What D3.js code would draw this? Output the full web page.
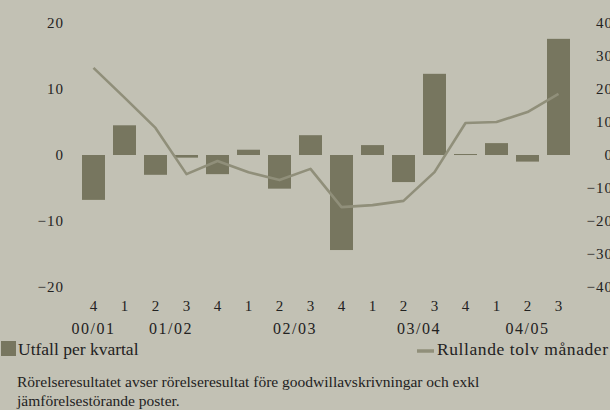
<!DOCTYPE html>
<html>
<head>
<meta charset="utf-8">
<script src="https://cdn.jsdelivr.net/npm/d3@7"></script>
<style>
  body { margin: 0; background: #c2c1b4; }
  svg { display: block; font-family: 'Liberation Serif', 'DejaVu Serif', serif; }
</style>
</head>
<body>
<div class="container"></div>
<script>
// quarter labels along the x axis
let quarters = ['4', '1', '2', '3', '4', '1', '2', '3', '4', '1', '2', '3', '4', '1', '2', '3'];
// result per quarter (left axis)
let quarterly = [-6.8, 4.5, -3.0, -0.4, -2.9, 0.8, -5.1, 3.0, -14.4, 1.5, -4.1, 12.3, 0.15, 1.8, -1.0, 17.6];
// rolling twelve months (right axis)
let rolling = [26.4, 17.4, 8.2, -5.8, -1.8, -5.2, -7.6, -4.2, -15.8, -15.2, -13.9, -5.2, 9.7, 10.0, 13.0, 18.5];
// fiscal years, with first and last quarter index
let yearLabels = ['00/01', '01/02', '02/03', '03/04', '04/05'];
let yearFirst = [0, 1, 5, 9, 13];
let yearLast = [0, 4, 8, 12, 15];
let leftTicks = [-20, -10, 0, 10, 20];
let rightTicks = [-40, -30, -20, -10, 0, 10, 20, 30, 40];

let width = 610;
let height = 410;

let svg = d3
  .select('.container')
  .append('svg')
  .attr('width', width)
  .attr('height', height);

let x = d3
  .scaleBand()
  .domain(d3.range(quarters.length))
  .range([78, 574])
  .paddingInner(0.258)
  .paddingOuter(0.129);

let y = d3.scaleLinear().domain([-20, 20]).range([287, 23]);
let y2 = d3.scaleLinear().domain([-40, 40]).range([287, 23]);

let fmt = (d) => (d < 0 ? '\u2212' + Math.abs(d) : '' + d);

// left axis labels
svg
  .append('g')
  .attr('id', 'y-axis')
  .attr('transform', 'translate(64,0)')
  .call(d3.axisLeft(y).tickValues(leftTicks).tickFormat(fmt).tickSize(0).tickPadding(0))
  .call((g) => g.select('.domain').remove())
  .selectAll('text')
  .attr('fill', '#222')
  .style('font-size', '15px')
  .style('letter-spacing', '1px')
  .style('font-family', "'Liberation Serif', serif");

// right axis labels (cut by the edge, as in the original)
svg
  .append('g')
  .attr('id', 'y2-axis')
  .attr('transform', 'translate(613,0)')
  .call(d3.axisLeft(y2).tickValues(rightTicks).tickFormat(fmt).tickSize(0).tickPadding(0))
  .call((g) => g.select('.domain').remove())
  .selectAll('text')
  .attr('fill', '#222')
  .style('font-size', '15px')
  .style('letter-spacing', '1px')
  .style('font-family', "'Liberation Serif', serif");

// bars
svg
  .append('g')
  .selectAll('rect')
  .data(quarterly)
  .enter()
  .append('rect')
  .attr('x', (d, i) => x(i))
  .attr('y', (d) => y(Math.max(0, d)))
  .attr('width', x.bandwidth())
  .attr('height', (d) => Math.max(1, Math.abs(y(d) - y(0))))
  .attr('fill', '#77765f');

// rolling line
let line = d3
  .line()
  .x((d, i) => x(i) + x.bandwidth() / 2)
  .y((d) => y2(d));

svg
  .append('path')
  .datum(rolling)
  .attr('d', line)
  .attr('fill', 'none')
  .attr('stroke', '#908f7a')
  .attr('stroke-width', 2.6)
  .attr('stroke-linejoin', 'round');

// quarter labels
svg
  .append('g')
  .selectAll('text')
  .data(quarters)
  .enter()
  .append('text')
  .attr('x', (d, i) => x(i) + x.bandwidth() / 2)
  .attr('y', 311)
  .attr('text-anchor', 'middle')
  .style('font-size', '15px')
  .attr('fill', '#222')
  .text((d) => d);

// year labels
svg
  .append('g')
  .selectAll('text')
  .data(yearLabels)
  .enter()
  .append('text')
  .attr('x', (d, i) => (x(yearFirst[i]) + x(yearLast[i]) + x.bandwidth()) / 2)
  .attr('y', 334)
  .attr('text-anchor', 'middle')
  .style('font-size', '16px')
  .style('letter-spacing', '1.5px')
  .attr('fill', '#222')
  .text((d) => d);

// legend
let legend = svg.append('g').attr('id', 'legend').style('font-size', '17.5px').attr('fill', '#222');
legend.append('rect').attr('x', 1).attr('y', 341).attr('width', 15).attr('height', 15).attr('fill', '#77765f');
legend.append('text').attr('x', 18).attr('y', 355).text('Utfall per kvartal');
legend
  .append('line')
  .attr('x1', 417)
  .attr('x2', 434)
  .attr('y1', 351)
  .attr('y2', 351)
  .attr('stroke', '#908f7a')
  .attr('stroke-width', 3.5);
legend
  .append('text')
  .attr('x', 437)
  .attr('y', 355)
  .attr('textLength', 171)
  .attr('lengthAdjust', 'spacing')
  .text('Rullande tolv månader');

// footnote
let note = svg.append('g').style('font-size', '15.5px').attr('fill', '#222');
note.append('text').attr('x', 17).attr('y', 387).text('Rörelseresultatet avser rörelseresultat före goodwillavskrivningar och exkl');
note.append('text').attr('x', 17).attr('y', 406).text('jämförelsestörande poster.');
</script>
</body>
</html>
